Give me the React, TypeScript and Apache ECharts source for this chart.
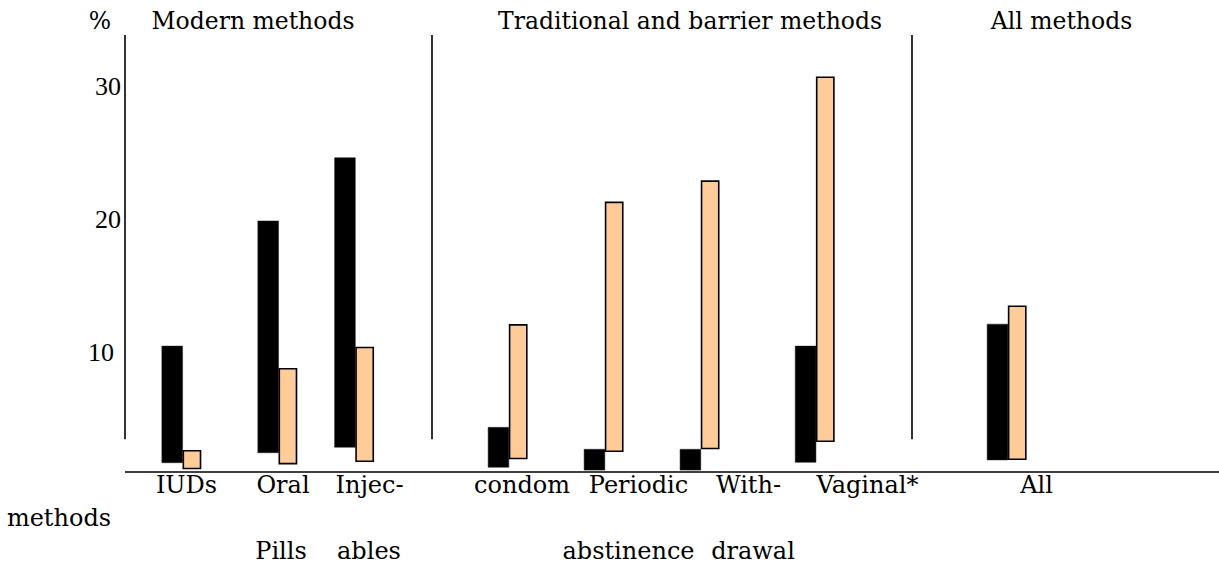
import React, { useEffect, useRef } from 'react';
import * as echarts from 'echarts';

// ---- data ----
const categories = ['IUDs', 'Oral Pills', 'Injectables', 'Condom', 'Periodic abstinence', 'Withdrawal', 'Vaginal*', 'All'];
const blackLow = [1.74, 2.49, 2.9, 1.4, 1.19, 1.19, 1.77, 1.95];
const blackHigh = [10.5, 19.9, 24.65, 4.4, 2.75, 2.75, 10.5, 12.15];
const orangeLow = [1.25, 1.62, 1.79, 2.0, 2.55, 2.75, 3.3, 1.95];
const orangeHigh = [2.7, 8.85, 10.45, 12.15, 21.35, 22.95, 30.75, 13.55];
const yTicks = [10, 20, 30];
const groupTitles = ['%', 'Modern methods', 'Traditional and barrier methods', 'All methods'];
const labelRow1 = ['IUDs', 'Oral', 'Injec-', 'condom', 'Periodic', 'With-', 'Vaginal*', 'All'];
const labelRow2 = ['methods'];
const labelRow3 = ['Pills', 'ables', 'abstinence', 'drawal'];

// ---- layout (not data) ----
const SLOT = [3, 8, 12, 20, 25, 30, 36, 46]; // boundary slot between the two bars of each group
const DIVIDERS = [0, 16, 41];
const X_MAX = 57;
const BASE_LINE = 1.07;
const LINE_TOP = 33.86;
const LINE_BOTTOM = 3.5;
const TITLE_X = [100, 253, 690, 1061.5];
const ROW1_X = [186.5, 283, 369.5, 522, 638.5, 748.5, 867.5, 1036.5];
const ROW2_X = [59];
const ROW3_X = [281, 369, 628.5, 753];
const FONT = '"DejaVu Serif", "Liberation Serif", serif';
const DIGIT_FONT = '"Liberation Serif", "DejaVu Serif", serif';
const ORANGE = '#FFCC99';

export default function App() {
  const ref = useRef<HTMLDivElement>(null);
  useEffect(() => {
    if (!ref.current) return;
    const chart = echarts.init(ref.current, undefined, { renderer: 'svg' });

    const makeRender = (kind: 'black' | 'orange') => (params: any, api: any) => {
      const b = api.value(0);
      const lo = api.coord([b, api.value(1)]);
      const hi = api.coord([b, api.value(2)]);
      const w = api.size([1, 0])[0];
      if (kind === 'black') {
        const bw = w * 1.08;
        return {
          type: 'rect',
          shape: { x: lo[0] - bw, y: hi[1], width: bw, height: lo[1] - hi[1] },
          style: { fill: '#000', stroke: '#222', lineWidth: 0.5 },
        };
      }
      return {
        type: 'rect',
        shape: { x: lo[0] + 0.75, y: hi[1] + 0.75, width: w - 2, height: lo[1] - hi[1] - 1.5 },
        style: { fill: ORANGE, stroke: '#000', lineWidth: 1.6 },
      };
    };

    const texts: any[] = [];
    const addText = (arr: string[], xs: number[], y: number, size: number) => {
      arr.forEach((t, i) =>
        texts.push({
          type: 'text',
          x: xs[i],
          y,
          silent: true,
          style: { text: t, fill: '#000', font: `${size}px ${FONT}`, textAlign: 'center', textVerticalAlign: 'middle' },
        })
      );
    };
    addText(groupTitles, TITLE_X, 21, 23.5);
    addText(labelRow1, ROW1_X, 484.5, 24);
    addText(labelRow2, ROW2_X, 518, 24);
    addText(labelRow3, ROW3_X, 550.5, 24);

    chart.setOption({
      animation: false,
      grid: { left: 125, right: 0, top: 19.9, bottom: 78.1 },
      xAxis: { type: 'value', min: 0, max: X_MAX, show: false },
      yAxis: {
        type: 'value',
        min: 0,
        max: 35,
        interval: 10,
        axisLine: { show: false },
        axisTick: { show: false },
        splitLine: { show: false },
        axisLabel: {
          margin: 4,
          color: '#000',
          fontSize: 26,
          fontFamily: DIGIT_FONT,
          formatter: (v: number) => (yTicks.includes(v) ? (v === 10 ? '{p|' + v + '}' : String(v)) : ''),
          rich: { p: { padding: [0, 7, 0, 0], fontSize: 26, fontFamily: DIGIT_FONT, color: '#000' } },
        },
      },
      graphic: texts,
      series: [
        {
          type: 'custom',
          name: 'black',
          renderItem: makeRender('black'),
          encode: { x: 0, y: [1, 2] },
          data: categories.map((c, i) => [SLOT[i], blackLow[i], blackHigh[i], c]),
          markLine: {
            silent: true,
            symbol: 'none',
            label: { show: false },
            lineStyle: { color: '#000', width: 1.6, type: 'solid' },
            data: [
              [{ coord: [0, BASE_LINE] }, { coord: [X_MAX, BASE_LINE] }],
              ...DIVIDERS.map((d) => [{ coord: [d, LINE_BOTTOM] }, { coord: [d, LINE_TOP] }]),
            ],
          },
        },
        {
          type: 'custom',
          name: 'orange',
          renderItem: makeRender('orange'),
          encode: { x: 0, y: [1, 2] },
          data: categories.map((c, i) => [SLOT[i], orangeLow[i], orangeHigh[i], c]),
        },
      ],
    });
    return () => chart.dispose();
  }, []);
  return <div ref={ref} style={{ position: 'fixed', left: 0, top: 0, width: 1219, height: 564, background: '#fff' }} />;
}
